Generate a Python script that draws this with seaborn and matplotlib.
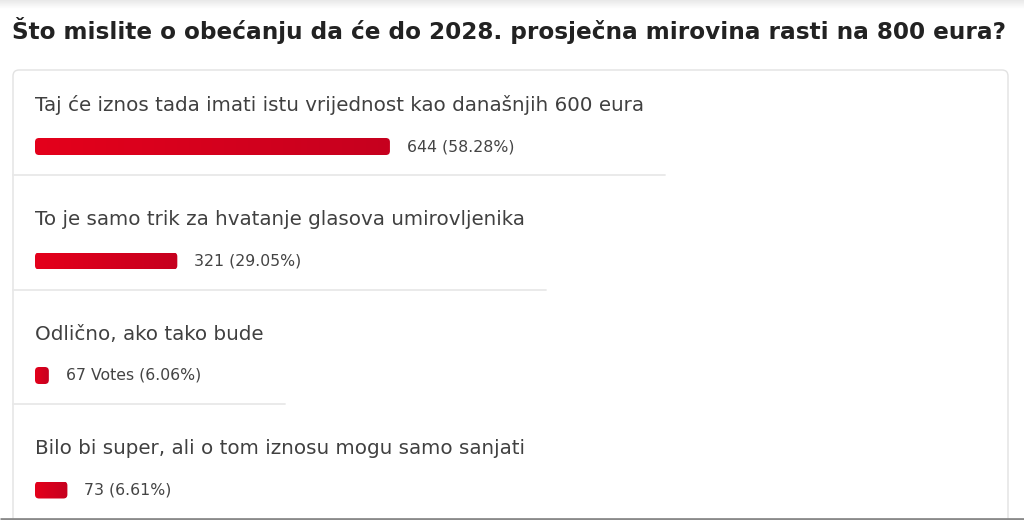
import numpy as np
import matplotlib
matplotlib.use('Agg')
import matplotlib.pyplot as plt
import seaborn as sns
from matplotlib.patches import FancyBboxPatch
from matplotlib.colors import LinearSegmentedColormap

title = 'Što mislite o obećanju da će do 2028. prosječna mirovina rasti na 800 eura?'
answers = ['Taj će iznos tada imati istu vrijednost kao današnjih 600 eura',
           'To je samo trik za hvatanje glasova umirovljenika',
           'Odlično, ako tako bude',
           'Bilo bi super, ali o tom iznosu mogu samo sanjati']
votes = [644, 321, 67, 73]
percents = [58.28, 29.05, 6.06, 6.61]
vote_words = ['', '', ' Votes', '']

sns.set_theme(style='white')
plt.rcParams['font.family'] = ['DejaVu Sans']

fig = plt.figure(figsize=(10.24, 5.2), dpi=100)
fig.patch.set_facecolor('white')
renderer = fig.canvas.get_renderer()

# background layer in pixel units (y down like the web page)
bg = fig.add_axes([0, 0, 1, 1])
bg.axis('off')

# faint shadow strip at the very top
strip = LinearSegmentedColormap.from_list('strip', ['#e9e9e9', '#ffffff'])
bg.imshow(np.linspace(0, 1, 20)[:, None], extent=(0, 1024, 9, 0), cmap=strip,
          aspect='auto', origin='upper')

bg.text(12, 30, title, fontsize=16.65, fontweight='bold', color='#222222', va='center')

card = FancyBboxPatch((13, 70), 995, 470, boxstyle='round,pad=0,rounding_size=6',
                      fc='white', ec='#e2e2e2', lw=1)
bg.add_patch(card)
bg.plot([0, 1024], [519, 519], color='#8a8a8a', lw=2, solid_capstyle='butt')
bg.set_xlim(0, 1024)
bg.set_ylim(520, 0)

bar_cmap = LinearSegmentedColormap.from_list('bar', ['#e4001b', '#c6001f'])

row_top, row_h = 70, 114.5
bar_px = 17
left = 35

for i, (ans, n, pct, word) in enumerate(zip(answers, votes, percents, vote_words)):
    label_y = row_top + 35 + i * row_h
    bar_y = row_top + 76.5 + i * row_h
    sep_y = row_top + 105 + i * row_h

    t = bg.text(left, label_y, ans, fontsize=14.35, color='#404040', va='center')
    W = t.get_window_extent(renderer).width

    if i < len(answers) - 1:
        bg.plot([13, left + W + 21], [sep_y, sep_y], color='#e8e8e8', lw=1.3)

    # each row is a small axes as wide as its label, scaled 0-100 %
    ax = fig.add_axes([left / 1024, 1 - (bar_y + bar_px / 2) / 520, W / 1024, bar_px / 520])
    sns.barplot(x=[pct], y=[ans], orient='h', width=1, ax=ax, color='#d8001d')
    p = ax.patches[0]
    x0, y0, bw, bh = p.get_x(), p.get_y(), p.get_width(), p.get_height()
    p.remove()
    aspect = (1 / bar_px) / (100 / W)
    rbar = FancyBboxPatch((x0, y0), bw, bh,
                          boxstyle=f'round,pad=0,rounding_size={4 * 100 / W}',
                          mutation_aspect=aspect, fc='none', ec='none')
    ax.add_patch(rbar)
    im = ax.imshow(np.linspace(0, 1, 256)[None, :], extent=(x0, x0 + bw, y0 + bh, y0),
                   cmap=bar_cmap, aspect='auto', zorder=2)
    im.set_clip_path(rbar)
    ax.set_xlim(0, 100)
    ax.set_ylim(0.5, -0.5)
    ax.axis('off')

    ax.annotate(f'{n}{word} ({pct:.2f}%)', xy=(pct, 0), xytext=(12.2, 0),
                textcoords='offset points', va='center', ha='left',
                fontsize=11.3, color='#444444', annotation_clip=False)

fig.savefig('out.png', dpi=100, facecolor='white')
